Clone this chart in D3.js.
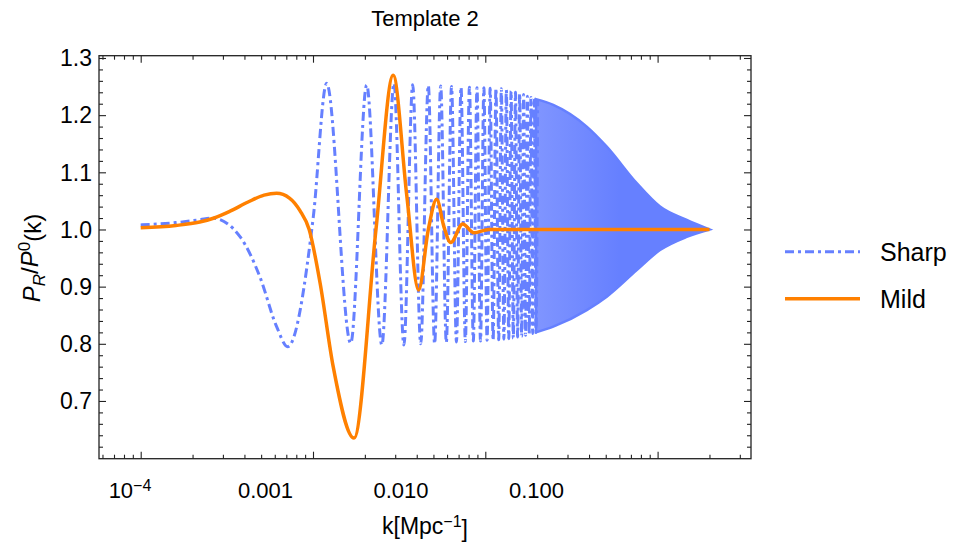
<!DOCTYPE html>
<html>
<head>
<meta charset="utf-8">
<script src="https://cdn.jsdelivr.net/npm/d3@7"></script>
<style>
  body { margin: 0; background: #fff; }
  text { font-family: "Liberation Sans", Arial, sans-serif; fill: #000; }
</style>
</head>
<body>
<div id="chart"></div>
<script>
// Sharp template: resolvable oscillations (k, value)
const sharpK = [1.0e-4, 1.6e-4, 2.2e-4, 2.6e-4, 3.78e-4, 4.92e-4, 6.15e-4, 7.13e-4, 1.004e-3,
  1.20e-3, 1.656e-3, 2.05e-3, 2.51e-3, 2.95e-3, 3.37e-3, 3.79e-3, 4.22e-3, 4.67e-3, 5.08e-3,
  5.51e-3, 5.94e-3, 6.37e-3, 6.80e-3, 7.23e-3, 7.66e-3, 8.09e-3, 8.52e-3, 8.95e-3, 9.38e-3,
  9.81e-3, 10.24e-3, 10.67e-3, 11.10e-3, 11.53e-3, 11.96e-3, 12.39e-3, 12.82e-3, 13.25e-3,
  13.68e-3, 14.11e-3, 14.54e-3, 14.97e-3, 15.40e-3, 15.83e-3, 16.26e-3, 16.69e-3, 17.12e-3,
  17.55e-3, 17.98e-3, 18.41e-3, 18.84e-3, 19.27e-3, 19.70e-3, 20.13e-3];
const sharpV = [1.008, 1.012, 1.017, 1.020, 0.987, 0.917, 0.830, 0.795, 1.022,
  1.2556, 0.801, 1.2526, 0.798, 1.2556, 0.798, 1.253, 0.800, 1.252, 0.800,
  1.251, 0.802, 1.250, 0.803, 1.249, 0.804, 1.249, 0.805, 1.248, 0.805,
  1.248, 0.806, 1.247, 0.806, 1.247, 0.807, 1.246, 0.808, 1.244,
  0.809, 1.242, 0.810, 1.240, 0.812, 1.238, 0.813, 1.236, 0.815,
  1.233, 0.817, 1.231, 0.818, 1.229, 0.820, 1.227];

// Sharp template: dense part, only the envelope can be read
const bandK = [0.0197, 0.0248, 0.0388, 0.0507, 0.0757, 0.1033, 0.1476, 0.2];
const bandHi = [1.228, 1.218, 1.180, 1.145, 1.081, 1.040, 1.0166, 1.0];
const bandLo = [0.820, 0.830, 0.859, 0.8825, 0.929, 0.964, 0.987, 1.0];

// Mild template
const mildK = [1.0e-4, 1.6e-4, 2.2e-4, 2.64e-4, 3.3e-4, 4.2e-4, 5.2e-4, 6.15e-4, 7.3e-4, 8.4e-4,
  9.5e-4, 1.10e-3, 1.31e-3, 1.73e-3, 2.32e-3, 2.92e-3, 3.5e-3, 4.1e-3, 4.67e-3, 5.22e-3,
  5.75e-3, 6.30e-3, 7.39e-3, 8.59e-3, 0.0105, 0.2];
const mildV = [1.003, 1.007, 1.013, 1.0196, 1.032, 1.048, 1.060, 1.0633, 1.055, 1.033,
  1.0, 0.906, 0.760, 0.635, 1.0, 1.270, 1.06, 0.894, 1.0, 1.053,
  1.005, 0.977, 1.0096, 0.9944, 1.0, 1.0];

const yMajor = [0.7, 0.8, 0.9, 1.0, 1.1, 1.2, 1.3];
const yMinor = d3.range(0.62, 1.30, 0.02).filter(v => Math.abs(v * 10 - Math.round(v * 10)) > 0.01);
const xMajor = [1e-4, 1e-3, 1e-2, 1e-1];
const xMinor = [6e-5, 7e-5, 8e-5, 9e-5, 2e-4, 3e-4, 4e-4, 5e-4, 6e-4, 7e-4, 8e-4, 9e-4,
  2e-3, 3e-3, 4e-3, 5e-3, 6e-3, 7e-3, 8e-3, 9e-3, 0.02, 0.03, 0.04, 0.05, 0.06, 0.07, 0.08, 0.09, 0.2, 0.3];
const xLabels = ["10|−4", "0.001", "0.010", "0.100"];

const width = 954, height = 545;
const plot = { left: 99, right: 751, top: 55.7, bottom: 458.7 };

const svg = d3.select("#chart").append("svg")
  .attr("width", width)
  .attr("height", height);

const x = d3.scaleLog().domain([5.728e-5, 0.3484]).range([plot.left, plot.right]);
// the printed labels sit slightly off their ticks in the original
const xLab = d3.scaleLog().domain([1e-4, 0.1]).range([130, 536.5]);
const y = d3.scaleLinear().domain([0.599, 1.304]).range([plot.bottom, plot.top]);

const blue = "#6680ff", orange = "#ff8000";

const defs = svg.append("defs");
defs.append("clipPath").attr("id", "clip")
  .append("rect")
  .attr("x", plot.left).attr("y", plot.top)
  .attr("width", plot.right - plot.left).attr("height", plot.bottom - plot.top);

// the band is speckled by dash gaps where it starts, solid further right
const grad = defs.append("linearGradient")
  .attr("id", "bandFill")
  .attr("gradientUnits", "userSpaceOnUse")
  .attr("x1", x(bandK[0])).attr("x2", x(0.06))
  .attr("y1", 0).attr("y2", 0);
grad.append("stop").attr("offset", 0).attr("stop-color", "#8095ff");
grad.append("stop").attr("offset", 1).attr("stop-color", blue);

const g = svg.append("g").attr("clip-path", "url(#clip)");

// dense band of the sharp oscillation
const band = d3.area()
  .x(d => x(d.k)).y0(d => y(d.lo)).y1(d => y(d.hi))
  .curve(d3.curveMonotoneX);
g.append("path")
  .datum(bandK.map((k, i) => ({ k: k, hi: bandHi[i], lo: bandLo[i] })))
  .attr("d", band)
  .attr("fill", "url(#bandFill)")
  .attr("stroke", blue)
  .attr("stroke-width", 2.5);

const line = d3.line().x(d => x(d.k)).y(d => y(d.v)).curve(d3.curveMonotoneX);

g.append("path")
  .datum(sharpK.map((k, i) => ({ k: k, v: sharpV[i] })))
  .attr("d", line)
  .attr("fill", "none")
  .attr("stroke", blue)
  .attr("stroke-width", 3)
  .attr("stroke-dasharray", "9,4,3,4");

g.append("path")
  .datum(mildK.map((k, i) => ({ k: k, v: mildV[i] })))
  .attr("d", line)
  .attr("fill", "none")
  .attr("stroke", orange)
  .attr("stroke-width", 3.5);

// frame
svg.append("rect")
  .attr("x", plot.left).attr("y", plot.top)
  .attr("width", plot.right - plot.left).attr("height", plot.bottom - plot.top)
  .attr("fill", "none").attr("stroke", "#222").attr("stroke-width", 1.3);

// ticks, all pointing inwards
const tickAxis = (axis, tx, ty, values, size) => {
  svg.append("g")
    .attr("transform", `translate(${tx},${ty})`)
    .call(axis.tickValues(values).tickSize(-size).tickFormat(""))
    .call(a => a.select(".domain").remove())
    .call(a => a.selectAll("line").attr("stroke", "#222").attr("stroke-width", 1.1));
};
tickAxis(d3.axisBottom(x), 0, plot.bottom, xMajor, 7);
tickAxis(d3.axisBottom(x), 0, plot.bottom, xMinor, 4);
tickAxis(d3.axisTop(x), 0, plot.top, xMajor, 7);
tickAxis(d3.axisTop(x), 0, plot.top, xMinor, 4);
tickAxis(d3.axisLeft(y), plot.left, 0, yMajor, 7);
tickAxis(d3.axisLeft(y), plot.left, 0, yMinor, 4);
tickAxis(d3.axisRight(y), plot.right, 0, yMajor, 7);
tickAxis(d3.axisRight(y), plot.right, 0, yMinor, 4);

// y tick labels
svg.append("g").selectAll("text")
  .data(yMajor)
  .join("text")
  .attr("x", plot.left - 7)
  .attr("y", d => y(d))
  .attr("dy", "0.36em")
  .attr("text-anchor", "end")
  .style("font-size", "23px")
  .text(d => d.toFixed(1));

// x tick labels
const xl = svg.append("g").selectAll("text")
  .data(xMajor)
  .join("text")
  .attr("x", d => xLab(d))
  .attr("y", 498)
  .attr("text-anchor", "middle")
  .style("font-size", "22px");
xl.each(function (d, i) {
  const parts = xLabels[i].split("|");
  const t = d3.select(this);
  t.append("tspan").text(parts[0]);
  if (parts[1]) t.append("tspan").attr("dy", "-0.45em").style("font-size", "16px").text(parts[1]);
});

// title
svg.append("text")
  .attr("x", (plot.left + plot.right) / 2)
  .attr("y", 26)
  .attr("text-anchor", "middle")
  .style("font-size", "22px")
  .text("Template 2");

// x axis label
const xt = svg.append("text")
  .attr("x", (plot.left + plot.right) / 2)
  .attr("y", 534)
  .attr("text-anchor", "middle")
  .style("font-size", "23px");
xt.append("tspan").text("k[Mpc");
xt.append("tspan").attr("dy", "-0.45em").style("font-size", "16px").text("−1");
xt.append("tspan").attr("dy", "0.45em").text("]");

// y axis label
const yt = svg.append("text")
  .attr("transform", "translate(40,258) rotate(-90)")
  .attr("text-anchor", "middle")
  .style("font-size", "24px");
yt.append("tspan").style("font-style", "italic").text("P");
yt.append("tspan").attr("dy", "0.3em").style("font-size", "17px").style("font-style", "italic").text("R");
yt.append("tspan").attr("dy", "-0.3em").text("/");
yt.append("tspan").style("font-style", "italic").text("P");
yt.append("tspan").attr("dy", "-0.45em").style("font-size", "17px").text("0");
yt.append("tspan").attr("dy", "0.45em").text("(k)");

// legend
const legendNames = ["Sharp", "Mild"];
const legend = svg.append("g");
legendNames.forEach((name, i) => {
  const ly = 251.7 + i * 47;
  legend.append("line")
    .attr("x1", 785).attr("x2", 860)
    .attr("y1", ly).attr("y2", ly)
    .attr("stroke", i === 0 ? blue : orange)
    .attr("stroke-width", i === 0 ? 3 : 3.5)
    .attr("stroke-dasharray", i === 0 ? "9,4,3,4" : null);
  legend.append("text")
    .attr("x", 880).attr("y", ly)
    .attr("dy", "0.36em")
    .style("font-size", "25px")
    .text(name);
});
</script>
</body>
</html>
